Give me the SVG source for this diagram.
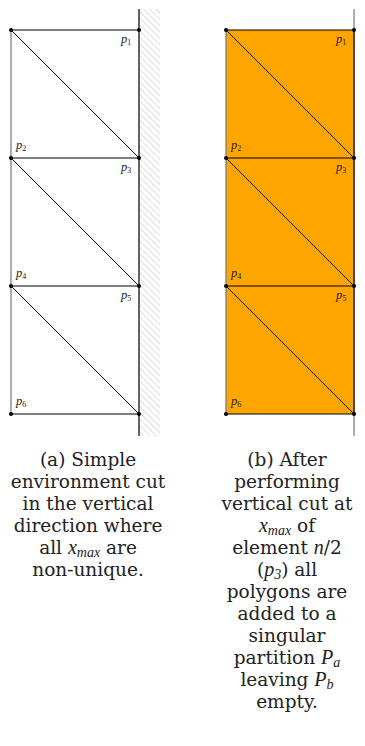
<svg xmlns="http://www.w3.org/2000/svg" width="365" height="746" viewBox="0 0 365 746">
<style>
.edge{stroke:#000;stroke-width:1;fill:none}
.side{stroke:#777;stroke-width:1.2;fill:none}
.cut{stroke:#222;stroke-width:1.4;fill:none}
.cutg{stroke:#777;stroke-width:1.2;fill:none}
.pt{fill:#000}
.lbl{font-family:"Liberation Serif",serif;font-style:italic;font-size:12.5px;fill:#222}
.sub{font-size:8px;font-style:normal}
.cap{font-family:"DejaVu Serif",serif;font-size:18.5px;fill:#222;text-anchor:middle}
.m{font-family:"Liberation Serif",serif;font-style:italic;font-size:20px}
.ms{font-family:"Liberation Serif",serif;font-style:italic;font-size:14px}
</style>
<defs>
<pattern id="hatch" patternUnits="userSpaceOnUse" width="4.5" height="4.5" patternTransform="rotate(-45)">
<line x1="0" y1="0" x2="0" y2="4.5" stroke="#aaa" stroke-width="0.8"/>
</pattern>
</defs>
<g id="hatching"><rect x="140" y="9" width="20" height="427" fill="url(#hatch)"/></g>
<g id="panel-b-fill"><rect x="226" y="30" width="128" height="384" fill="#ffa500"/></g>
<g id="connectors">
<line class="side" x1="11" y1="30" x2="11" y2="414"/>
<line class="edge" x1="11" y1="30" x2="139" y2="30"/>
<line class="edge" x1="11" y1="158" x2="139" y2="158"/>
<line class="edge" x1="11" y1="286" x2="139" y2="286"/>
<line class="edge" x1="11" y1="414" x2="139" y2="414"/>
<line class="edge" x1="11" y1="30" x2="139" y2="158"/>
<line class="edge" x1="11" y1="158" x2="139" y2="286"/>
<line class="edge" x1="11" y1="286" x2="139" y2="414"/>
<line class="cut" x1="139" y1="9" x2="139" y2="436"/>
<line class="side" x1="226" y1="30" x2="226" y2="414"/>
<line class="edge" x1="226" y1="30" x2="354" y2="30"/>
<line class="edge" x1="226" y1="158" x2="354" y2="158"/>
<line class="edge" x1="226" y1="286" x2="354" y2="286"/>
<line class="edge" x1="226" y1="414" x2="354" y2="414"/>
<line class="edge" x1="226" y1="30" x2="354" y2="158"/>
<line class="edge" x1="226" y1="158" x2="354" y2="286"/>
<line class="edge" x1="226" y1="286" x2="354" y2="414"/>
<line class="cutg" x1="354" y1="9" x2="354" y2="436"/>
<line class="cut" x1="354" y1="30" x2="354" y2="414"/>
</g>
<g id="a-p1"><circle class="pt" cx="11" cy="30" r="2"/><circle class="pt" cx="139" cy="30" r="2"/><text class="lbl" x="121" y="43">p<tspan class="sub" dy="2">1</tspan></text></g>
<g id="a-p2"><circle class="pt" cx="11" cy="158" r="2"/><text class="lbl" x="16" y="149">p<tspan class="sub" dy="2">2</tspan></text></g>
<g id="a-p3"><circle class="pt" cx="139" cy="158" r="2"/><text class="lbl" x="121" y="171">p<tspan class="sub" dy="2">3</tspan></text></g>
<g id="a-p4"><circle class="pt" cx="11" cy="286" r="2"/><text class="lbl" x="16" y="277">p<tspan class="sub" dy="2">4</tspan></text></g>
<g id="a-p5"><circle class="pt" cx="139" cy="286" r="2"/><text class="lbl" x="121" y="299">p<tspan class="sub" dy="2">5</tspan></text></g>
<g id="a-p6"><circle class="pt" cx="11" cy="414" r="2"/><circle class="pt" cx="139" cy="414" r="2"/><text class="lbl" x="16" y="405">p<tspan class="sub" dy="2">6</tspan></text></g>
<g id="b-p1"><circle class="pt" cx="226" cy="30" r="2"/><circle class="pt" cx="354" cy="30" r="2"/><text class="lbl" x="336" y="43">p<tspan class="sub" dy="2">1</tspan></text></g>
<g id="b-p2"><circle class="pt" cx="226" cy="158" r="2"/><text class="lbl" x="231" y="149">p<tspan class="sub" dy="2">2</tspan></text></g>
<g id="b-p3"><circle class="pt" cx="354" cy="158" r="2"/><text class="lbl" x="336" y="171">p<tspan class="sub" dy="2">3</tspan></text></g>
<g id="b-p4"><circle class="pt" cx="226" cy="286" r="2"/><text class="lbl" x="231" y="277">p<tspan class="sub" dy="2">4</tspan></text></g>
<g id="b-p5"><circle class="pt" cx="354" cy="286" r="2"/><text class="lbl" x="336" y="299">p<tspan class="sub" dy="2">5</tspan></text></g>
<g id="b-p6"><circle class="pt" cx="226" cy="414" r="2"/><circle class="pt" cx="354" cy="414" r="2"/><text class="lbl" x="231" y="405">p<tspan class="sub" dy="2">6</tspan></text></g>
<g id="caption-a">
<text class="cap" x="88" y="466">(a) Simple</text>
<text class="cap" x="88" y="488">environment cut</text>
<text class="cap" x="88" y="510">in the vertical</text>
<text class="cap" x="88" y="532">direction where</text>
<text class="cap" x="88" y="554">all <tspan class="m">x</tspan><tspan class="ms" dy="3">max</tspan><tspan dy="-3"> are</tspan></text>
<text class="cap" x="88" y="576">non-unique.</text>
</g>
<g id="caption-b">
<text class="cap" x="287" y="466">(b) After</text>
<text class="cap" x="287" y="488">performing</text>
<text class="cap" x="287" y="510">vertical cut at</text>
<text class="cap" x="287" y="532"><tspan class="m">x</tspan><tspan class="ms" dy="3">max</tspan><tspan dy="-3"> of</tspan></text>
<text class="cap" x="287" y="554">element <tspan class="m">n</tspan>/2</text>
<text class="cap" x="287" y="576">(<tspan class="m">p</tspan><tspan class="ms" dy="3">3</tspan><tspan dy="-3">) all</tspan></text>
<text class="cap" x="287" y="598">polygons are</text>
<text class="cap" x="287" y="620">added to a</text>
<text class="cap" x="287" y="642">singular</text>
<text class="cap" x="287" y="664">partition <tspan class="m">P</tspan><tspan class="ms" dy="3">a</tspan></text>
<text class="cap" x="287" y="686">leaving <tspan class="m">P</tspan><tspan class="ms" dy="3">b</tspan></text>
<text class="cap" x="287" y="708">empty.</text>
</g>
</svg>
